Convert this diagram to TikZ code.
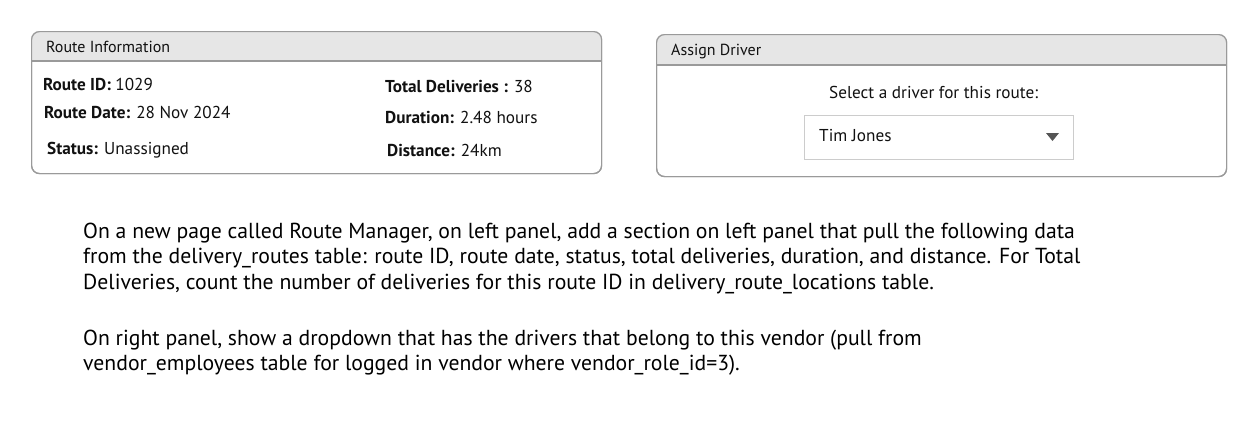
\documentclass[tikz,border=0pt]{standalone}
\usepackage{fontspec}
\setmainfont{PT Sans}
\usepackage{xcolor}
\definecolor{paneledge}{HTML}{9A9A9A}
\definecolor{headfill}{HTML}{E6E6E6}
\definecolor{boxedge}{HTML}{CCCCCC}
\definecolor{arrowgray}{HTML}{555555}
\definecolor{ink}{HTML}{111111}
\tikzset{
  panel/.style={draw=paneledge, line width=1.2pt, rounded corners=8pt, anchor=north west, inner sep=0pt},
  headtext/.style={anchor=base west, inner sep=0pt, text=ink, font=\fontsize{16}{17}\selectfont},
  field/.style={anchor=base west, inner sep=0pt, text=ink, font=\fontsize{17.2}{19}\selectfont},
  dropbox/.style={draw=boxedge, line width=1pt, anchor=north west, inner sep=0pt},
  note/.style={anchor=base west, inner sep=0pt, font=\fontsize{21.7}{26}\selectfont}
}
\begin{document}
\begin{tikzpicture}[x=1pt,y=-1pt]
  \useasboundingbox[fill=white] (0,0) rectangle (1252,421);

  % left panel
  \node[panel, minimum width=570pt, minimum height=142pt] (route) at (31,31) {};
  \begin{scope}
    \clip[rounded corners=8pt] (route.north west) rectangle (route.south east);
    \fill[headfill] (route.north west) rectangle ([yshift=-30pt]route.north east);
  \end{scope}
  \draw[paneledge, line width=1.2pt] ([yshift=-30pt]route.north west) -- ([yshift=-30pt]route.north east);
  \node[panel, minimum width=570pt, minimum height=142pt] at (31,31) {};
  \node[headtext] (routehead) at (46,52) {Route Information};

  \node[field] (rid) at (43,90) {\textbf{Route ID:} 1029};
  \node[field] (rdate) at (44,118) {\textbf{Route Date:} 28 Nov 2024};
  \node[field] (rstatus) at (47,154) {\textbf{Status:} Unassigned};
  \node[field] (rtotal) at (385,92) {\textbf{Total Deliveries :} 38};
  \node[field] (rdur) at (385,123) {\textbf{Duration:} 2.48 hours};
  \node[field] (rdist) at (387,156) {\textbf{Distance:} 24km};

  % right panel
  \node[panel, minimum width=570pt, minimum height=142pt] (driver) at (656,34) {};
  \begin{scope}
    \clip[rounded corners=8pt] (driver.north west) rectangle (driver.south east);
    \fill[headfill] (driver.north west) rectangle ([yshift=-31pt]driver.north east);
  \end{scope}
  \draw[paneledge, line width=1.2pt] ([yshift=-31pt]driver.north west) -- ([yshift=-31pt]driver.north east);
  \node[panel, minimum width=570pt, minimum height=142pt] at (656,34) {};
  \node[headtext] (driverhead) at (671,55) {Assign Driver};

  \node[field] (prompt) at (829,98) {Select a driver for this route:};
  \node[dropbox, minimum width=269pt, minimum height=44pt] (pick) at (804,115) {};
  \node[field] (pickname) at (819,141) {Tim Jones};
  \fill[arrowgray] (1046,133) -- (1059,133) -- (1052.5,141) -- cycle;

  % description
  \node[note] (line1) at (83,238) {On a new page called Route Manager, on left panel, add a section on left panel that pull the following data};
  \node[note] (line2) at (83,263.5) {from the delivery\_routes table: route ID, route date, status, total deliveries, duration, and distance. For Total};
  \node[note] (line3) at (83,289) {Deliveries, count the number of deliveries for this route ID in delivery\_route\_locations table.};
  \node[note] (line4) at (83,345) {On right panel, show a dropdown that has the drivers that belong to this vendor (pull from};
  \node[note] (line5) at (83,370) {vendor\_employees table for logged in vendor where vendor\_role\_id=3).};
\end{tikzpicture}
\end{document}
